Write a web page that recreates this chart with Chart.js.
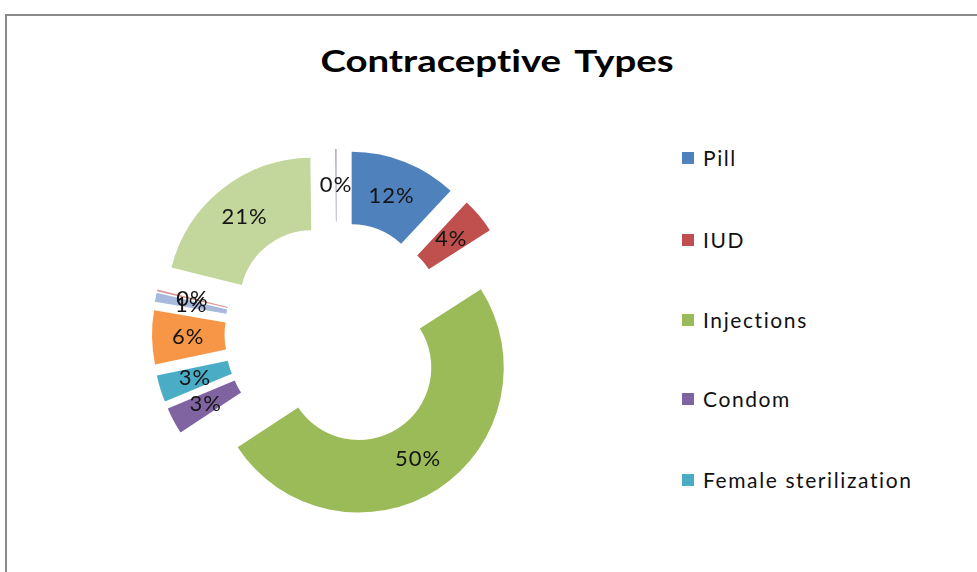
<!DOCTYPE html>
<html>
<head>
<meta charset="utf-8">
<script src="https://cdn.jsdelivr.net/npm/chart.js@4.4.1/dist/chart.umd.min.js"></script>
<style>
  html, body { margin: 0; padding: 0; background: #fff; overflow: hidden; width: 977px; height: 572px; }
  #frame { position: absolute; left: 5px; top: 14px; width: 1200px; height: 900px; border-left: 2px solid #8a8a8a; border-top: 2px solid #8a8a8a; }
  #title { position: absolute; left: 297px; width: 400px; top: 42px; text-align: center; font: bold 30px Lato, sans-serif; color: #000;
           word-spacing: 4px; font-variant-ligatures: none; transform: scaleX(1.28); transform-origin: 50% 50%; }
  #wrap { position: absolute; left: 0; top: 0; width: 674px; height: 668px; }
  #legend { position: absolute; left: 682px; top: 0; font: 21px Lato, sans-serif; color: #111; letter-spacing: 1.6px; }
  .item { position: absolute; white-space: nowrap; display: flex; align-items: center; }
  .sw { width: 12px; height: 12px; margin-right: 9px; }
</style>
</head>
<body>
<div id="frame"></div>
<div id="title">Contraceptive Types</div>
<div id="wrap"><canvas id="chart"></canvas></div>
<div id="legend"></div>
<script>
const labels = ['Pill', 'IUD', 'Injections', 'Condom', 'Female sterilization',
  'Other 1', 'Other 2', 'Other 3', 'Other 4', 'Other 5'];
const values = [12, 4, 50, 3, 3, 6, 1, 0.2, 21, 0.2];
const colors = ['#4f81bd', '#c0504d', '#9bbb59', '#8064a2', '#4bacc6',
  '#f79646', '#a7b9dd', '#d99694', '#c3d69b', '#b8b4c8'];
const legendShown = 5;
const legendY = [158, 240, 320, 399, 480];

const EXPLODE = 40;
const total = values.reduce((a, b) => a + b, 0);

// excel style exploded slices + labels in the middle of each ring piece
const explodePlugin = {
  id: 'explode',
  beforeDatasetDraw(chart, args) {
    const ctx = chart.ctx;
    args.meta.data.forEach(arc => {
      const mid = (arc.startAngle + arc.endAngle) / 2;
      ctx.save();
      ctx.translate(Math.cos(mid) * EXPLODE, Math.sin(mid) * EXPLODE);
      arc.draw(ctx);
      ctx.restore();
    });
    return false;
  },
  afterDatasetsDraw(chart) {
    const ctx = chart.ctx;
    const meta = chart.getDatasetMeta(0);
    ctx.save();
    ctx.font = '22px Lato, sans-serif';
    ctx.letterSpacing = '1px';
    ctx.fillStyle = '#141414';
    ctx.textAlign = 'center';
    ctx.textBaseline = 'middle';
    meta.data.forEach((arc, i) => {
      const p = arc.getProps(['x', 'y', 'startAngle', 'endAngle', 'innerRadius', 'outerRadius']);
      const mid = (p.startAngle + p.endAngle) / 2;
      const r = (p.innerRadius + p.outerRadius) / 2 + EXPLODE;
      const pct = Math.round(values[i] / total * 100) + '%';
      ctx.fillText(pct, p.x + Math.cos(mid) * r, p.y + Math.sin(mid) * r);
    });
    ctx.restore();
  }
};

const ctx = document.getElementById('chart').getContext('2d');
const chart = new Chart(ctx, {
  type: 'doughnut',
  data: {
    labels: labels,
    datasets: [{
      data: values,
      backgroundColor: colors,
      borderWidth: 0
    }]
  },
  options: {
    responsive: true,
    maintainAspectRatio: false,
    animation: false,
    radius: 145,
    cutout: '50%',
    layout: { padding: 0 },
    plugins: {
      legend: { display: false },
      tooltip: { enabled: false }
    }
  },
  plugins: [explodePlugin]
});

const legend = document.getElementById('legend');
for (let i = 0; i < legendShown; i++) {
  const item = document.createElement('div');
  item.className = 'item';
  item.style.top = (legendY[i] - 13) + 'px';
  item.innerHTML = `<span class="sw" style="background:${colors[i]}"></span><span>${labels[i]}</span>`;
  legend.appendChild(item);
}
</script>
</body>
</html>
